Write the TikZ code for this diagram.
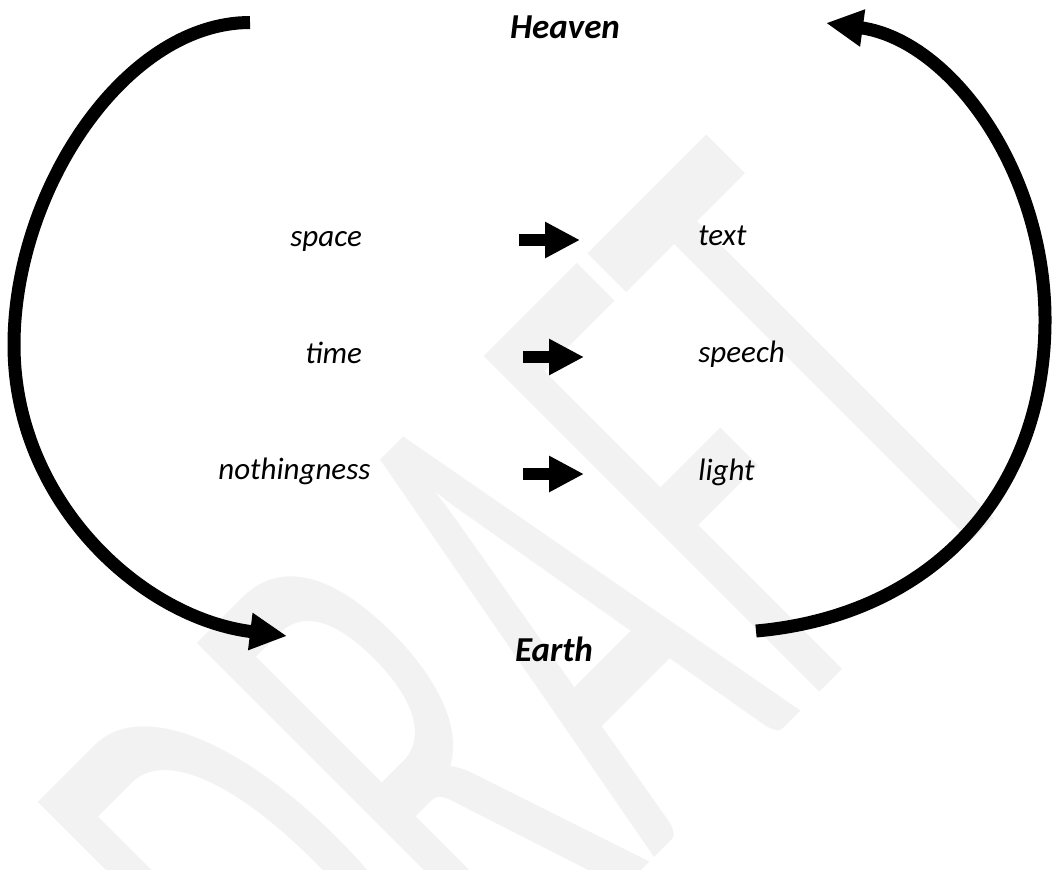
\documentclass[tikz,border=0pt]{standalone}
\usepackage{fontspec}
\setmainfont{Carlito}
\usepackage{tikz}
\usetikzlibrary{arrows.meta,positioning}
\definecolor{ink}{RGB}{0,0,0}
\definecolor{wmgray}{RGB}{242,242,242}

\begin{document}
\begin{tikzpicture}[
  x=0.5pt, y=-0.5pt,
  word/.style={font=\fontsize{15.5}{18}\selectfont\itshape, inner sep=0pt},
  pole/.style={font=\fontsize{17.5}{20}\selectfont\bfseries\itshape, inner sep=0pt},
  draft/.style={font=\fontsize{370}{370}\selectfont, text=wmgray, inner sep=0pt, rotate=45},
  smallarr/.style={line width=6pt, ink, -{Triangle[length=17.5pt, width=17pt]}},
  bigarr/.style={line width=6.5pt, ink, -{Triangle[length=18.5pt, width=17.5pt]}},
]
\path[use as bounding box] (0,0) rectangle (1052,869);
% watermark behind everything
\node[draft, anchor=base] (wm) at (701,811) {\scalebox{0.49}[1]{DRAFT}};
% poles
\node[pole, anchor=base] (heaven) at (565,38) {Heaven};
\node[pole, anchor=base] (earth) at (554,661) {Earth};
% left column
\node[word, anchor=base west] (space) at (290,246) {space};
\node[word, anchor=base west] (time) at (305,363) {time};
\node[word, anchor=base west] (noth) at (218,479) {nothingness};
% right column
\node[word, anchor=base west] (text) at (698,245) {text};
\node[word, anchor=base west] (speech) at (698,362) {speech};
\node[word, anchor=base west] (light) at (698,480) {light};
% small arrows
\coordinate (a1) at (519,240); \coordinate (b1) at (580,240);
\coordinate (a2) at (523,357); \coordinate (b2) at (584,357);
\coordinate (a3) at (523,474); \coordinate (b3) at (584,474);
\draw[smallarr] (a1) -- (b1);
\draw[smallarr] (a2) -- (b2);
\draw[smallarr] (a3) -- (b3);
% big arcs
\coordinate (lt) at (250,22.5);
\coordinate (lb) at (287,636);
\coordinate (rb) at (756,631);
\coordinate (rt) at (826,23);
\draw[bigarr] (lt) .. controls (125,22.5) and (14,190) .. (14,345)
  .. controls (14,500) and (140,618) .. (lb);
\draw[bigarr] (rb) .. controls (935,615) and (1045,490) .. (1045,320)
  .. controls (1045,170) and (950,40) .. (rt);
\end{tikzpicture}
\end{document}
